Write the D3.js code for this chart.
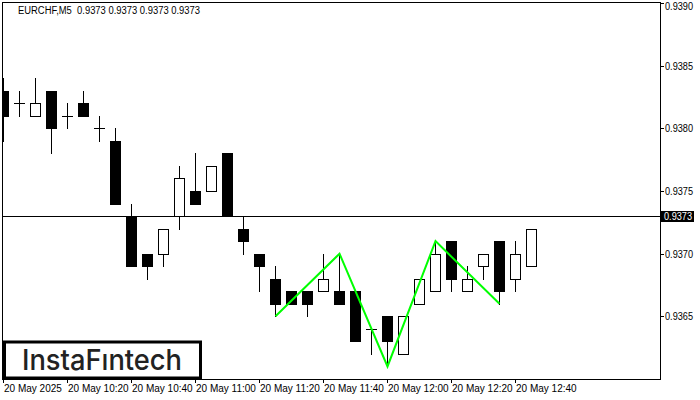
<!DOCTYPE html>
<html><head><meta charset="utf-8">
<script src="https://cdn.jsdelivr.net/npm/d3@7"></script>
<style>html,body{margin:0;padding:0;background:#fff;}svg{display:block;}</style>
</head><body>
<script>
const times = ["10:00","10:05","10:10","10:15","10:20","10:25","10:30","10:35","10:40","10:45","10:50","10:55","11:00","11:05","11:10","11:15","11:20","11:25","11:30","11:35","11:40","11:45","11:50","11:55","12:00","12:05","12:10","12:15","12:20","12:25","12:30","12:35","12:40","12:45"];
const open  = [0.9383,0.9382,0.9381,0.9383,0.9381,0.9382,0.9380,0.9379,0.9373,0.9370,0.9370,0.9373,0.9375,0.9375,0.9378,0.9372,0.9370,0.9368,0.9367,0.9367,0.9367,0.9367,0.9367,0.9364,0.9365,0.9362,0.9366,0.9367,0.9371,0.9367,0.9369,0.9371,0.9368,0.9369];
const high  = [0.9384,0.9383,0.9384,0.9383,0.9382,0.9383,0.9381,0.9380,0.9374,0.9370,0.9372,0.9377,0.9378,0.9377,0.9378,0.9373,0.9370,0.9369,0.9367,0.9367,0.9370,0.9370,0.9367,0.9364,0.9365,0.9365,0.9368,0.9371,0.9371,0.9369,0.9370,0.9371,0.9371,0.9372];
const low   = [0.9379,0.9381,0.9381,0.9378,0.9380,0.9381,0.9379,0.9374,0.9369,0.9368,0.9369,0.9372,0.9374,0.9375,0.9373,0.9370,0.9367,0.9365,0.9366,0.9365,0.9367,0.9366,0.9363,0.9362,0.9361,0.9362,0.9366,0.9367,0.9367,0.9367,0.9368,0.9366,0.9367,0.9369];
const close = [0.9381,0.9382,0.9382,0.9380,0.9381,0.9381,0.9380,0.9374,0.9369,0.9369,0.9372,0.9376,0.9374,0.9377,0.9373,0.9371,0.9369,0.9366,0.9366,0.9366,0.9368,0.9366,0.9363,0.9364,0.9363,0.9365,0.9368,0.9370,0.9368,0.9368,0.9370,0.9367,0.9370,0.9372];

const patternIdx = [17, 21, 24, 27, 31];
const patternPrice = [0.9365, 0.9370, 0.9361, 0.9371, 0.9366];

const yTicks = [0.9365, 0.9370, 0.9375, 0.9380, 0.9385, 0.9390];
const xTickIdx = [0, 4, 8, 12, 16, 20, 24, 28, 32];
const xTickLabels = ["20 May 2025","20 May 10:20","20 May 10:40","20 May 11:00","20 May 11:20","20 May 11:40","20 May 12:00","20 May 12:20","20 May 12:40"];
const lastPrice = 0.9373;
const title = "EURCHF,M5  0.9373 0.9373 0.9373 0.9373";
const logoText = "InstaF\u0131ntech";

const W = 700, H = 400;
const L = 2, T = 2, R = 660, B = 379;
const FONT = "Liberation Sans, Arial, sans-serif";

const svg = d3.select("body").append("svg").attr("width", W).attr("height", H);
const x = d3.scaleLinear().domain([0, 1]).range([3, 19]);
const y = d3.scaleLinear().domain([0.9360, 0.9390]).range([379, 3]);
const ry = v => Math.round(y(v));

svg.append("defs").append("clipPath").attr("id", "clip")
  .append("rect").attr("x", L + 1).attr("y", T + 1).attr("width", R - L - 1).attr("height", B - T - 1);

const plot = svg.append("g").attr("clip-path", "url(#clip)");

// last price line
plot.append("line").attr("x1", L).attr("x2", R).attr("y1", ry(lastPrice) + 0.5).attr("y2", ry(lastPrice) + 0.5)
  .attr("stroke", "#000").attr("stroke-width", 1);

const data = times.map((t, i) => ({i, o: open[i], h: high[i], l: low[i], c: close[i]}));
const g = plot.selectAll("g.c").data(data).join("g").attr("class", "c");
g.append("line")
  .attr("x1", d => Math.round(x(d.i)) + 0.5).attr("x2", d => Math.round(x(d.i)) + 0.5)
  .attr("y1", d => ry(d.h)).attr("y2", d => ry(d.l) + 1)
  .attr("stroke", "#000").attr("stroke-width", 1);
g.each(function(d) {
  const sel = d3.select(this);
  const cx = Math.round(x(d.i));
  const yo = ry(d.o), yc = ry(d.c);
  if (yo === yc) {
    sel.append("line").attr("x1", cx - 5).attr("x2", cx + 6).attr("y1", yo + 0.5).attr("y2", yo + 0.5)
      .attr("stroke", "#000").attr("stroke-width", 1);
  } else if (d.c < d.o) {
    sel.append("rect").attr("x", cx - 5).attr("width", 11).attr("y", yo).attr("height", yc - yo + 1).attr("fill", "#000");
  } else {
    sel.append("rect").attr("x", cx - 4.5).attr("width", 10).attr("y", yc + 0.5).attr("height", yo - yc)
      .attr("fill", "#fff").attr("stroke", "#000").attr("stroke-width", 1);
  }
});

// pattern line
plot.append("path")
  .datum(patternIdx.map((d, k) => [x(d) + 0.5, y(patternPrice[k])]))
  .attr("d", d3.line())
  .attr("fill", "none").attr("stroke", "#00ff00").attr("stroke-width", 2);

// frame
svg.append("rect").attr("x", L + 0.5).attr("y", T + 0.5).attr("width", R - L).attr("height", B - T)
  .attr("fill", "none").attr("stroke", "#000").attr("stroke-width", 1);

// right axis
const ax = svg.append("g");
yTicks.forEach(v => {
  const yy = ry(v);
  ax.append("line").attr("x1", R).attr("x2", R + 4).attr("y1", yy + 0.5).attr("y2", yy + 0.5).attr("stroke", "#000");
  ax.append("text").attr("x", R + 5).attr("y", Math.max(yy, 6) + 3.5)
    .attr("font-family", FONT).attr("font-size", 10).attr("fill", "#000")
    .attr("textLength", 28).attr("lengthAdjust", "spacingAndGlyphs")
    .text(v.toFixed(4));
});
// last price label
const ly = ry(lastPrice);
ax.append("rect").attr("x", R + 1).attr("y", ly - 5).attr("width", 33).attr("height", 11).attr("fill", "#000");
ax.append("text").attr("x", R + 4).attr("y", ly + 4)
  .attr("font-family", FONT).attr("font-size", 10).attr("fill", "#fff")
  .attr("textLength", 28).attr("lengthAdjust", "spacingAndGlyphs")
  .text(lastPrice.toFixed(4));

// bottom axis
xTickIdx.forEach((idx, k) => {
  const xx = Math.round(x(idx));
  ax.append("line").attr("x1", xx + 0.5).attr("x2", xx + 0.5).attr("y1", B).attr("y2", B + 4).attr("stroke", "#000");
  ax.append("text").attr("x", xx + 1).attr("y", 392)
    .attr("font-family", FONT).attr("font-size", 10).attr("fill", "#000")
    .text(xTickLabels[k]);
});

// title
svg.append("text").attr("x", 18).attr("y", 14)
  .attr("font-family", FONT).attr("font-size", 10).attr("fill", "#000")
  .attr("xml:space", "preserve").style("white-space", "pre")
  .attr("textLength", 182).attr("lengthAdjust", "spacingAndGlyphs")
  .text(title);

// logo
svg.append("rect").attr("x", 4.5).attr("y", 342).attr("width", 196).attr("height", 36)
  .attr("fill", "#fff").attr("stroke", "#000").attr("stroke-width", 3);
svg.append("text").attr("x", 22).attr("y", 370)
  .attr("font-family", "Inter, Lato, sans-serif").attr("font-weight", 500).attr("font-size", 29).attr("fill", "#222")
  .attr("textLength", 160).attr("lengthAdjust", "spacingAndGlyphs")
  .text(logoText);
</script>
</body></html>
